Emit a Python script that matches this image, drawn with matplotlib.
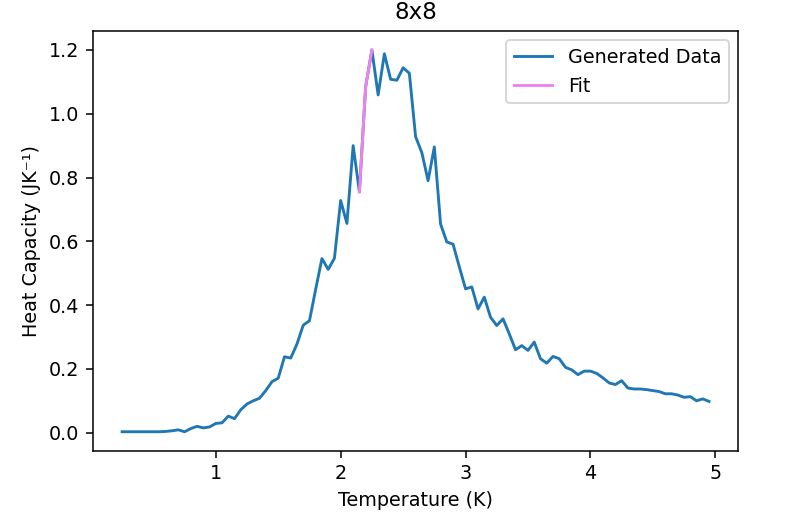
import numpy as np
import matplotlib
matplotlib.use("Agg")
import matplotlib.pyplot as plt

# temperature grid of the simulation (K)
temps = np.round(np.arange(0.25, 4.951, 0.05), 2)

# heat capacity, one value per temperature
heat_cap = [
    0.003, 0.003, 0.003, 0.003, 0.003, 0.003, 0.003, 0.004, 0.006, 0.009,
    0.003, 0.013, 0.020, 0.015, 0.018, 0.029, 0.031, 0.052, 0.044, 0.072,
    0.090, 0.100, 0.108, 0.132, 0.160, 0.171, 0.238, 0.234, 0.278, 0.337,
    0.351, 0.450, 0.546, 0.512, 0.547, 0.728, 0.656, 0.900, 0.755, 1.085,
    1.200, 1.059, 1.188, 1.108, 1.105, 1.144, 1.127, 0.928, 0.878, 0.790,
    0.896, 0.654, 0.598, 0.591, 0.520, 0.451, 0.457, 0.388, 0.425, 0.362,
    0.336, 0.357, 0.310, 0.260, 0.273, 0.258, 0.284, 0.232, 0.218, 0.239,
    0.232, 0.205, 0.197, 0.182, 0.193, 0.193, 0.186, 0.172, 0.156, 0.151,
    0.163, 0.140, 0.137, 0.137, 0.135, 0.132, 0.129, 0.122, 0.122, 0.118,
    0.111, 0.113, 0.100, 0.106, 0.098,
]

# points used for the fit near the peak
fit_temps = [2.15, 2.20, 2.25]
fit_vals = [0.755, 1.085, 1.200]

dpi = 138  # screenshot looks like a scaled-up notebook figure
fig = plt.figure(figsize=(800 / dpi, 523 / dpi), dpi=dpi)
ax = fig.add_axes([0.116, 0.138, 0.807, 0.803])

ax.plot(temps, heat_cap, label="Generated Data")
ax.plot(fit_temps, fit_vals, color="violet", label="Fit")

ax.set_title("8x8")
ax.set_xlabel("Temperature (K)")
ax.set_ylabel("Heat Capacity (JK⁻¹)")
ax.legend(loc="upper right")

fig.savefig("out.png", dpi=dpi)
